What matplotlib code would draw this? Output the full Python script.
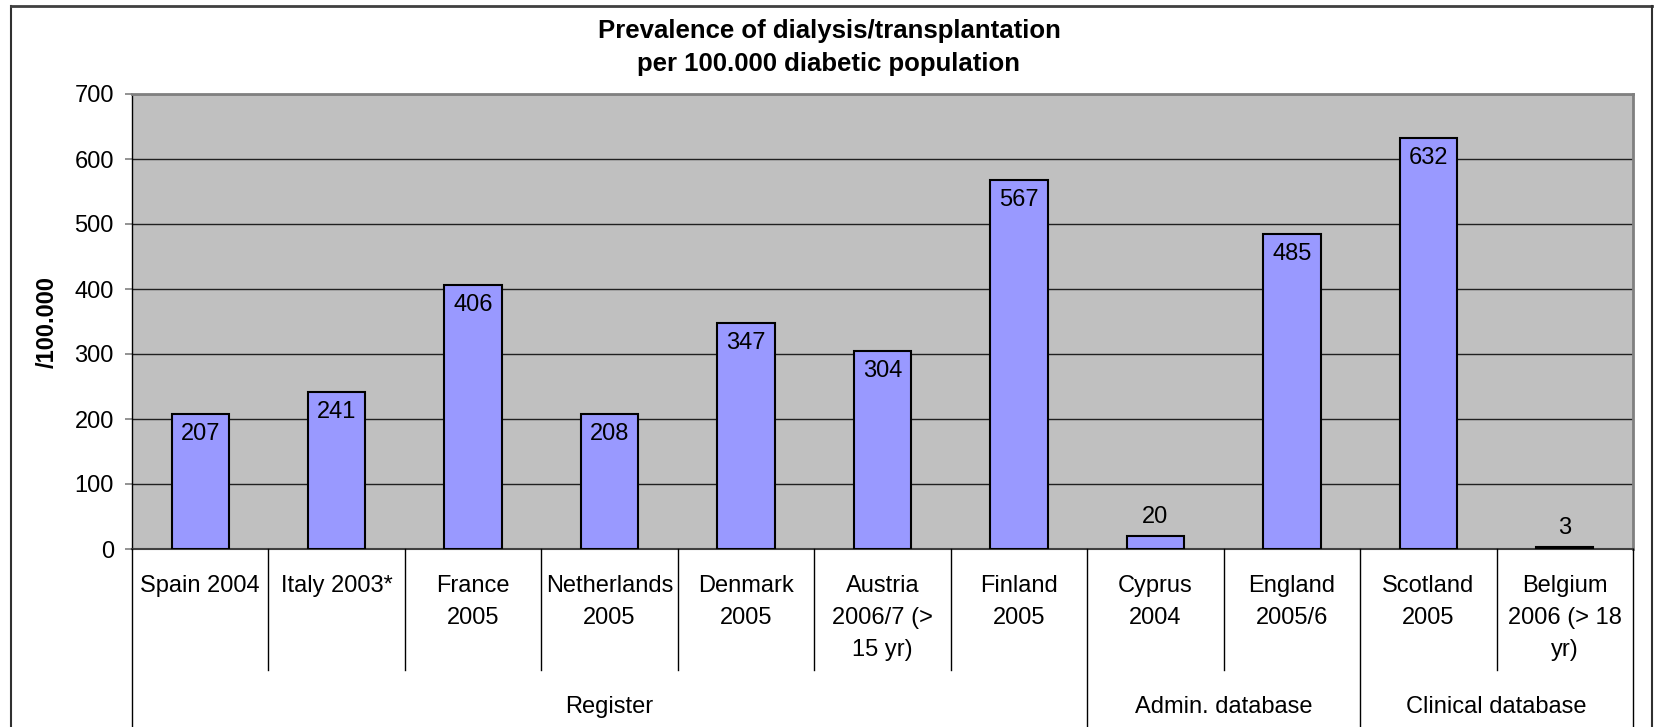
import matplotlib
matplotlib.use("Agg")
import matplotlib.pyplot as plt
from matplotlib.lines import Line2D
from matplotlib.transforms import blended_transform_factory

plt.rcParams['font.family'] = ['Liberation Sans', 'DejaVu Sans']

categories = ["Spain 2004", "Italy 2003*", "France\n2005", "Netherlands\n2005",
              "Denmark\n2005", "Austria\n2006/7 (>\n15 yr)", "Finland\n2005",
              "Cyprus\n2004", "England\n2005/6", "Scotland\n2005",
              "Belgium\n2006 (> 18\nyr)"]
values = [207, 241, 406, 208, 347, 304, 567, 20, 485, 632, 3]
groups = ["Register", "Admin. database", "Clinical database"]
group_sizes = [7, 2, 2]
yticks = [0, 100, 200, 300, 400, 500, 600, 700]
title = "Prevalence of dialysis/transplantation\nper 100.000 diabetic population"
ylabel = "/100.000"

W, H = 1654, 727
fig = plt.figure(figsize=(W / 100, H / 100), dpi=100)
L, R, T, B = 132, 1633, 94, 549
ax = fig.add_axes([L / W, 1 - B / H, (R - L) / W, (B - T) / H])

def fy(py):
    return 1 - py / H

n = len(categories)
x = list(range(n))
ax.set_facecolor('#C0C0C0')
ax.bar(x, values, width=0.42, color='#9999FF', edgecolor='black', linewidth=1.5, zorder=3)
ax.set_xlim(-0.5, n - 0.5)
ax.set_ylim(0, 700)
ax.set_yticks(yticks)
ax.set_yticklabels([str(t) for t in yticks], fontsize=17)
ax.tick_params(axis='y', length=5, color='#808080', pad=8, width=1.2)
ax.set_xticks([])
ax.yaxis.grid(True, color='#202020', linewidth=1.0)
ax.set_axisbelow(True)
for s in ['top', 'right']:
    ax.spines[s].set_color('#808080')
    ax.spines[s].set_linewidth(2)
ax.spines['left'].set_color('black')
ax.spines['left'].set_linewidth(1)
ax.spines['bottom'].set_color('#404040')
ax.spines['bottom'].set_linewidth(1.5)

for xi, v in zip(x, values):
    if v >= 100:
        off = -14.4
    else:
        off = 13.7
    ax.annotate(str(v), (xi, v), xytext=(0, off), textcoords='offset points',
                ha='center', va='center', fontsize=17, zorder=5)

ax.set_ylabel(ylabel, fontsize=17, fontweight='bold', labelpad=11)

fig.text(829 / W, fy(19), title, ha='center', va='top', fontsize=18.5,
         fontweight='bold', linespacing=1.45, transform=fig.transFigure)

tr = blended_transform_factory(ax.transData, fig.transFigure)
for xi, lab in zip(x, categories):
    fig.text(xi, fy(575), lab, transform=tr, ha='center', va='top',
             fontsize=17, linespacing=1.58)

# separators
bounds = [-0.5]
acc = -0.5
for g in group_sizes:
    acc += g
    bounds.append(acc)
for b in range(n + 1):
    bx = b - 0.5
    bottom = 727 if bx in bounds else 670
    fig.add_artist(Line2D([bx, bx], [fy(B), fy(bottom)], transform=tr,
                          color='black', linewidth=1.0))

start = -0.5
for gname, g in zip(groups, group_sizes):
    cx = start + g / 2
    fig.text(cx, fy(707), gname, transform=tr, ha='center', va='center', fontsize=17)
    start += g

# outer frame
fig.add_artist(Line2D([11 / W, 11 / W], [fy(6), 0], transform=fig.transFigure,
                      color='#303030', linewidth=1.5))
fig.add_artist(Line2D([11 / W, 1652 / W], [fy(6), fy(6)], transform=fig.transFigure,
                      color='#404040', linewidth=2))
fig.add_artist(Line2D([1652 / W, 1652 / W], [fy(6), 0], transform=fig.transFigure,
                      color='#303030', linewidth=1.5))

fig.savefig('out.png', dpi=100)
